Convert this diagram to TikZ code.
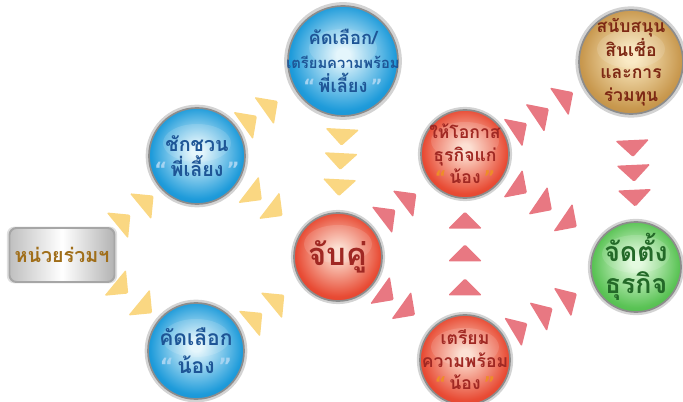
\documentclass[tikz,border=0pt]{standalone}
\usepackage{fontspec}
\newfontfamily\thaifont[Script=Thai]{Loma}
\newfontfamily\quotefont{DejaVu Sans}
\usetikzlibrary{calc,shadows}

\begin{document}
\begin{tikzpicture}[x=0.025cm, y=0.025cm,
  ball/.style={circle, minimum size=#1, inner sep=0pt, outer sep=0pt,
    draw=black!45, line width=1.2pt,
    drop shadow={shadow xshift=0pt, shadow yshift=0pt, shadow scale=1.07, opacity=.35},
    path picture={\fill[white, opacity=.13] ($(path picture bounding box.center)+(0,13)$) ellipse (34 and 19);}},
  balltext/.style args={#1/#2}{font=\thaifont\bfseries\fontsize{#1}{#2}\selectfont, align=center},
  unitbox/.style={rectangle, rounded corners=5pt, minimum width=2.625cm, minimum height=1.35cm,
    draw=black!35, line width=1.4pt, left color=black!25, right color=black!30, middle color=white,
    drop shadow={shadow xshift=0pt, shadow yshift=0pt, shadow scale=1.05, opacity=.25}},
  chev/.pic={\fill[#1, rounded corners=1pt] (8.5,0) -- (-8.5,17) -- (-8.5,-17) -- cycle;}
]

\definecolor{blueA}{RGB}{225,245,252}
\definecolor{blueB}{RGB}{30,155,218}
\definecolor{blueC}{RGB}{8,100,175}
\definecolor{redA}{RGB}{252,220,205}
\definecolor{redB}{RGB}{232,75,52}
\definecolor{redC}{RGB}{195,35,25}
\definecolor{brownA}{RGB}{250,232,190}
\definecolor{brownB}{RGB}{200,152,78}
\definecolor{brownC}{RGB}{150,100,40}
\definecolor{greenA}{RGB}{225,250,220}
\definecolor{greenB}{RGB}{90,195,85}
\definecolor{greenC}{RGB}{40,150,50}
\definecolor{bluetext}{RGB}{30,85,150}
\definecolor{blueq}{RGB}{165,212,242}
\definecolor{redtext}{RGB}{160,40,35}
\definecolor{redq}{RGB}{238,140,40}
\definecolor{browntext}{RGB}{125,40,20}
\definecolor{greentext}{RGB}{35,105,40}
\definecolor{unittext}{RGB}{160,110,25}
\definecolor{yellowarr}{RGB}{250,215,130}
\definecolor{pinkarr}{RGB}{232,120,130}

\pgfdeclareradialshading{blueball}{\pgfpoint{0bp}{3bp}}{color(0bp)=(blueA); color(3bp)=(blueA); color(24bp)=(blueB); color(50bp)=(blueC)}
\pgfdeclareradialshading{redball}{\pgfpoint{0bp}{3bp}}{color(0bp)=(redA); color(3bp)=(redA); color(24bp)=(redB); color(50bp)=(redC)}
\pgfdeclareradialshading{brownball}{\pgfpoint{0bp}{3bp}}{color(0bp)=(brownA); color(3bp)=(brownA); color(24bp)=(brownB); color(50bp)=(brownC)}
\pgfdeclareradialshading{greenball}{\pgfpoint{0bp}{3bp}}{color(0bp)=(greenA); color(3bp)=(greenA); color(24bp)=(greenB); color(50bp)=(greenC)}

\newcommand{\quoted}[2]{{\quotefont\bfseries\color{#1}“}\,#2\,{\quotefont\bfseries\color{#1}”}}
% row of triangles from one node to the next
\newcommand{\chevrons}[4]{%
  \foreach \t in {#4}
    \path let \p1=($(#2)-(#1)$), \n1={atan2(\y1,\x1)} in
      ($(#1)!\t!(#2)$) pic[rotate=\n1] {chev=#3};
}

\useasboundingbox (0,0) rectangle (683,401);

% ---------------- nodes ----------------
\node[unitbox, text=unittext, font=\thaifont\bfseries\fontsize{14}{16}\selectfont] (unit) at (62,146) {หน่วยร่วมฯ};

\node[ball=2.4cm, shading=blueball,
  label={[balltext=14/18, text=bluetext]center:{ชักชวน\\\quoted{blueq}{พี่เลี้ยง}}}] (invite) at (197,245) {};
\node[ball=2.4cm, shading=blueball,
  label={[balltext=15/20, text=bluetext]center:{คัดเลือก\\\quoted{blueq}{น้อง}}}] (selectN) at (196,50) {};
\node[ball=2.75cm, shading=blueball,
  label={[balltext=13/17, text=bluetext]center:{คัดเลือก/\\{\fontsize{10.5}{16}\selectfont เตรียมความพร้อม}\\\quoted{blueq}{พี่เลี้ยง}}}] (prepP) at (343,340) {};

\node[ball=2.2cm, shading=redball,
  label={[balltext=22/24, text=redtext]center:{จับคู่}}] (match) at (338,144) {};
\node[ball=2.2cm, shading=redball,
  label={[balltext=12.5/16, text=redtext]center:{ให้โอกาส\\ธุรกิจแก่\\\quoted{redq}{น้อง}}}] (chance) at (465,247) {};
\node[ball=2.25cm, shading=redball,
  label={[balltext=12.5/16, text=redtext]center:{เตรียม\\ความพร้อม\\\quoted{redq}{น้อง}}}] (prepN) at (465,41) {};

\node[ball=2.6cm, shading=brownball,
  label={[balltext=12.5/16, text=browntext]center:{สนับสนุน\\สินเชื่อ\\และการ\\ร่วมทุน}}] (fund) at (631,339) {};
\node[ball=2.25cm, shading=greenball,
  label={[balltext=19/23, text=greentext]center:{จัดตั้ง\\ธุรกิจ}}] (setup) at (636,134) {};

% ---------------- yellow arrows ----------------
\chevrons{unit.north east}{invite.223}{yellowarr}{0.18,0.68}
\chevrons{unit.south east}{selectN.139}{yellowarr}{0.14,0.68}
\chevrons{invite.33}{prepP.210}{yellowarr}{0.22,0.58}
\chevrons{invite.-32}{match.144}{yellowarr}{0.27,0.59}
\chevrons{selectN.24}{match.213}{yellowarr}{0.26,0.62}
\chevrons{prepP.south}{match.north}{yellowarr}{0.22,0.47,0.74}

% ---------------- pink arrows ----------------
\chevrons{match.41}{chance.220}{pinkarr}{0.29,0.64}
\chevrons{match.-39}{prepN.135}{pinkarr}{0.24,0.59}
\chevrons{prepN.north}{chance.south}{pinkarr}{0.24,0.53,0.81}
\chevrons{chance.22}{fund.206}{pinkarr}{0.18,0.46,0.77}
\chevrons{chance.-31}{setup.146}{pinkarr}{0.18,0.44,0.70}
\chevrons{prepN.30}{setup.201}{pinkarr}{0.18,0.46,0.73}
\chevrons{fund.south}{setup.north}{pinkarr}{0.32,0.55,0.78}

\end{tikzpicture}
\end{document}
